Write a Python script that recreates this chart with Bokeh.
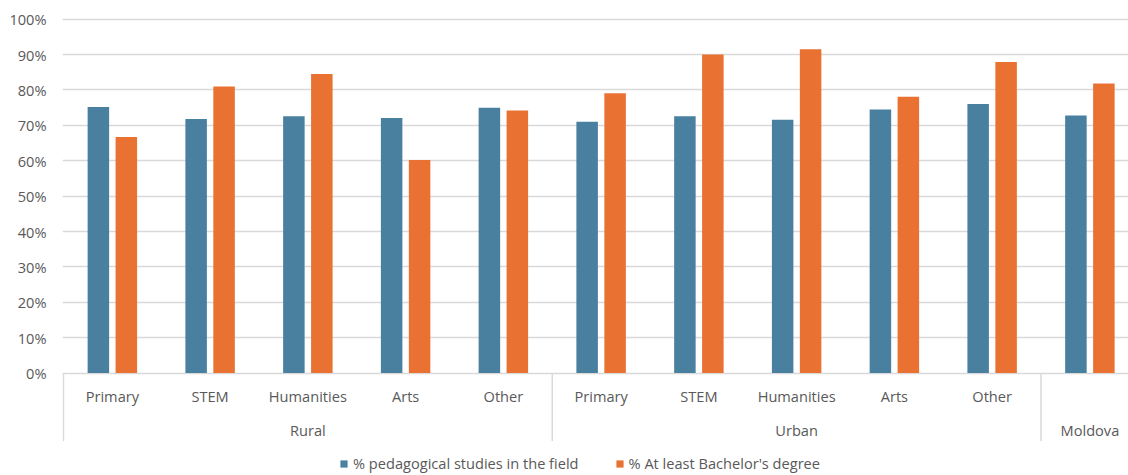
from bokeh.plotting import figure
from bokeh.models import Range1d, FixedTicker, Legend, LegendItem
from bokeh.embed import file_html
from bokeh.resources import INLINE
from bokeh.core.properties import value

# ---- data ----
groups = ["Rural"] * 5 + ["Urban"] * 5 + ["Moldova"]
fields = ["Primary", "STEM", "Humanities", "Arts", "Other",
          "Primary", "STEM", "Humanities", "Arts", "Other", ""]
pedagogical = [75.2, 71.8, 72.6, 72.1, 75.0, 71.0, 72.6, 71.6, 74.5, 76.0, 72.8]
bachelor = [66.7, 81.0, 84.5, 60.2, 74.2, 79.1, 90.0, 91.5, 78.1, 87.9, 81.8]
series_names = ["% pedagogical studies in the field", "% At least Bachelor's degree"]
y_ticks = [0, 10, 20, 30, 40, 50, 60, 70, 80, 90, 100]
y_tick_labels = ["0%", "10%", "20%", "30%", "40%", "50%", "60%", "70%", "80%", "90%", "100%"]

# ---- styles ----
BLUE = "#4A809F"
ORANGE = "#E97132"
TEXT = "#595959"
GRID = "#D9D9D9"
FONT = "Open Sans"
FS = "14.6px"

idx = list(range(len(fields)))
off = 0.143
bw = 0.22

p = figure(width=1128, height=474, output_backend="svg", toolbar_location=None,
           x_range=Range1d(-0.51, 10.395), y_range=Range1d(-28.67, 105.28),
           x_axis_location=None, min_border_left=62, min_border_right=0,
           min_border_top=0, min_border_bottom=0)
p.outline_line_color = None
p.xgrid.visible = False
p.background_fill_color = "white"
p.border_fill_color = "white"

yax = p.yaxis[0]
yax.ticker = FixedTicker(ticks=y_ticks)
yax.major_label_overrides = {t: l for t, l in zip(y_ticks, y_tick_labels)}
yax.axis_line_color = None
yax.major_tick_line_color = None
yax.minor_tick_line_color = None
yax.major_tick_out = 0
yax.major_tick_in = 0
yax.major_label_standoff = 16
yax.major_label_text_font = FONT
yax.major_label_text_font_size = FS
yax.major_label_text_color = TEXT
p.ygrid.ticker = FixedTicker(ticks=y_ticks)
p.ygrid.grid_line_color = GRID
p.ygrid.grid_line_width = 1.5

r1 = p.vbar(x=[i - off for i in idx], top=pedagogical, bottom=0, width=bw,
            fill_color=BLUE, line_color=None)
r2 = p.vbar(x=[i + off for i in idx], top=bachelor, bottom=0, width=bw,
            fill_color=ORANGE, line_color=None)

# category labels
lab_x = [i for i, f in zip(idx, fields) if f]
lab_t = [f for f in fields if f]
p.text(x=lab_x, y=-6.4, text=lab_t, text_align="center", text_baseline="middle",
       text_font=value(FONT), text_font_size=FS, text_color=TEXT)

# group labels and separators
uniq = []
for g in groups:
    if g not in uniq:
        uniq.append(g)
gx = []
bounds = [-0.5]
for g in uniq:
    ii = [i for i, gg in zip(idx, groups) if gg == g]
    gx.append(sum(ii) / len(ii))
    bounds.append(max(ii) + 0.5)
p.text(x=gx, y=-16.0, text=uniq, text_align="center", text_baseline="middle",
       text_font=value(FONT), text_font_size=FS, text_color=TEXT)
p.segment(x0=bounds, y0=0, x1=bounds, y1=-19.2, line_color=GRID, line_width=1.5)

legend = Legend(items=[LegendItem(label=series_names[0], renderers=[r1]),
                       LegendItem(label=series_names[1], renderers=[r2])],
                location=(277, 1), orientation="horizontal")
legend.background_fill_alpha = 0
legend.border_line_color = None
legend.padding = 0
legend.margin = 0
legend.spacing = 36
legend.glyph_width = 9
legend.glyph_height = 9
legend.label_standoff = 5
legend.label_height = 16
legend.label_text_font = FONT
legend.label_text_font_size = FS
legend.label_text_color = TEXT
p.add_layout(legend)

open("out.html", "w").write(file_html(p, INLINE))
